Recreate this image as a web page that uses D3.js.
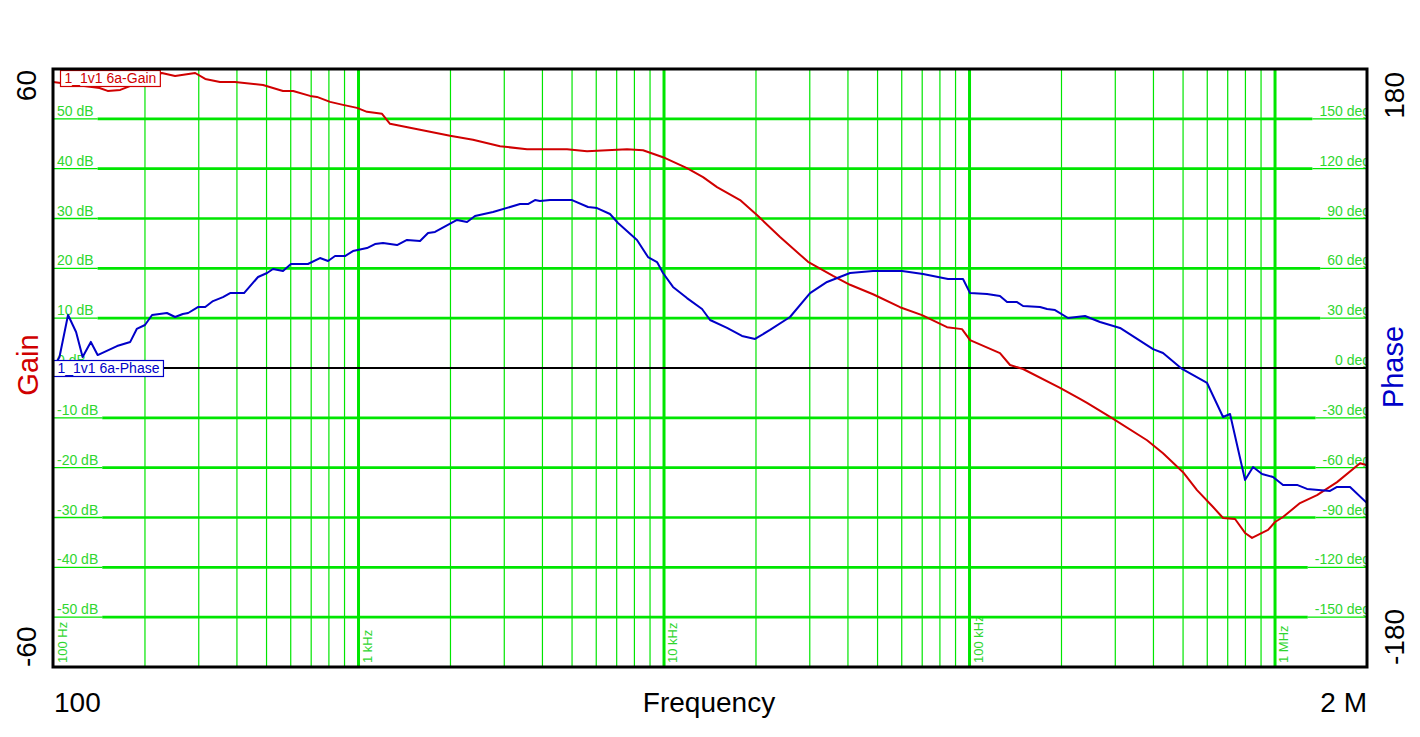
<!DOCTYPE html>
<html><head><meta charset="utf-8">
<script src="https://cdn.jsdelivr.net/npm/d3@7"></script>
<style>body{margin:0;background:#fff}svg{display:block;font-family:"Liberation Sans",Arial,sans-serif}</style>
</head><body>
<svg id="c" width="1420" height="737"></svg>
<script>
// ---- data ----
const gainFreq = [100,142,151,166,176,227,251,292,315,352,394,487,566,611,694,731,807,890,989,1066,1194,1268,1367,1474,1590,1993,2370,2906,3561,4814,5598,7566,8537,9924,11890,13420,14910,17740,20310,23980,29610,35750,40630,48320,59230,69910,84400,94510,100400,125800,135700,149700,197800,229900,242400,288400,381100,429900,499900,555400,626900,675900,739800,797700,840900,948700,1000000,1062100,1207000,1372600,1596000,1897600,2000000];
const gainDb = [57.4,56.2,55.6,55.8,56.4,59.2,58.6,59.2,58.0,57.4,57.4,56.8,55.6,55.6,54.6,54.4,53.4,52.8,52.2,51.4,51.0,49.0,48.6,48.2,47.8,46.6,45.8,44.5,43.9,43.9,43.5,43.9,43.7,42.3,40.1,38.3,36.3,33.7,30.5,26.3,21.3,18.5,16.7,14.8,12.2,10.6,8.2,7.8,5.6,3.0,0.6,-0.2,-4.0,-6.2,-7.0,-9.8,-14.5,-17.1,-20.9,-24.5,-27.9,-30.1,-30.3,-33.1,-34.1,-32.5,-30.9,-29.9,-27.1,-25.5,-22.9,-19.1,-19.5];
const phaseFreq = [100,105,112,119,125,133,140,162,179,188,200,211,236,251,266,277,298,315,334,360,380,422,469,502,525,566,601,683,748,795,838,903,959,1066,1132,1203,1337,1441,1590,1689,1780,2101,2266,2406,2756,3378,3587,3781,3927,4235,4999,5640,6035,6656,7070,8157,8863,9487,9924,10700,11890,13320,14150,16080,18000,19860,22230,25850,30060,34170,40630,48320,60140,70440,85040,95210,100400,114100,125800,132700,143100,149700,170100,179400,190500,210100,238800,267400,310900,398800,429900,496200,599100,675900,712400,797700,847200,906700,985100,1062100,1180300,1272500,1513600,1596000,1760100,2000000];
const phaseDeg = [0.0,6.6,31.9,21.7,6.6,15.7,7.8,13.2,15.7,23.5,25.9,31.9,33.1,30.7,32.5,33.1,36.7,36.7,40.3,42.7,45.1,45.1,54.8,57.2,59.6,58.4,62.6,62.6,66.2,64.4,67.4,67.4,70.4,72.2,74.6,75.3,74.0,77.1,76.5,81.3,81.9,89.1,87.9,91.5,93.9,98.7,98.7,101.1,100.5,101.1,101.1,96.9,96.3,92.7,87.3,77.1,66.8,63.8,57.2,48.8,42.1,35.5,28.9,24.1,19.3,17.5,22.9,30.7,45.1,51.8,57.2,58.4,58.4,56.6,53.6,53.6,45.1,44.5,43.3,39.7,39.7,37.3,36.7,35.5,34.9,30.1,31.3,27.7,24.1,11.4,9.0,-0.6,-9.0,-29.5,-27.7,-67.4,-59.6,-63.8,-65.6,-70.4,-70.4,-72.8,-74.0,-71.6,-71.6,-81.3];
const gainTicks = [-50,-40,-30,-20,-10,0,10,20,30,40,50];
const phaseTicks = [-150,-120,-90,-60,-30,0,30,60,90,120,150];
const decadeFreqs = [100,1000,10000,100000,1000000];
const decadeLabels = ["100 Hz","1 kHz","10 kHz","100 kHz","1 MHz"];
const traceNames = ["1_1v1 6a-Gain","1_1v1 6a-Phase"];

// ---- layout ----
const L=53,R=1367,T=69,B=667;
const GRID="#00e600", GTXT="#2fd62f", RED="#d00000", BLUE="#0000c8";
const svg=d3.select("#c");
const x=d3.scaleLog().domain([100,2e6]).range([L,R]);
const yG=d3.scaleLinear().domain([-60,60]).range([B,T]);
const yP=d3.scaleLinear().domain([-180,180]).range([B,T]);

svg.append("defs").append("clipPath").attr("id","pc").append("rect")
  .attr("x",L).attr("y",T).attr("width",R-L).attr("height",B-T);

const g=svg.append("g").attr("clip-path","url(#pc)");

// vertical grid
const vt=x.ticks().filter(v=>v>100 && v<2e6);
vt.forEach(v=>{
  const dec=Math.abs(Math.log10(v)-Math.round(Math.log10(v)))<1e-9;
  g.append("line").attr("x1",x(v)).attr("x2",x(v)).attr("y1",T).attr("y2",B)
   .attr("stroke",GRID).attr("stroke-width",dec?3:1.2);
});
// decade labels
decadeFreqs.forEach((v,i)=>{
  const xx=x(v)+(i===0?14:13);
  g.append("text").attr("transform",`translate(${xx},${B-4}) rotate(-90)`)
   .attr("fill",GTXT).attr("font-size",13).text(decadeLabels[i]);
});

// horizontal grid with labels
gainTicks.forEach((t,i)=>{
  const yy=yG(t);
  const lt=g.append("text").attr("x",L+4).attr("y",yy-3).attr("fill",GTXT).attr("font-size",14).text(t+" dB");
  const rt=g.append("text").attr("x",R+3).attr("y",yy-3).attr("text-anchor","end").attr("fill",GTXT).attr("font-size",14).text(phaseTicks[i]+" deg");
  const lw=lt.node().getComputedTextLength()+8;
  const rw=rt.node().getComputedTextLength()+4;
  if(t===0){
    g.append("line").attr("x1",L).attr("x2",R).attr("y1",yy).attr("y2",yy).attr("stroke","#000").attr("stroke-width",2.2);
  } else {
    g.append("line").attr("x1",L).attr("x2",L+lw).attr("y1",yy).attr("y2",yy).attr("stroke",GRID).attr("stroke-width",1.3);
    g.append("line").attr("x1",L+lw).attr("x2",R-rw).attr("y1",yy).attr("y2",yy).attr("stroke",GRID).attr("stroke-width",2.6);
    g.append("line").attr("x1",R-rw).attr("x2",R).attr("y1",yy).attr("y2",yy).attr("stroke",GRID).attr("stroke-width",1.3);
  }
});

// curves
const gainData=gainFreq.map((f,i)=>[f,gainDb[i]]);
const phaseData=phaseFreq.map((f,i)=>[f,phaseDeg[i]]);
g.append("path").datum(gainData).attr("fill","none").attr("stroke",RED).attr("stroke-width",2)
 .attr("stroke-linejoin","round").attr("d",d3.line().x(d=>x(d[0])).y(d=>yG(d[1])));
g.append("path").datum(phaseData).attr("fill","none").attr("stroke",BLUE).attr("stroke-width",2)
 .attr("stroke-linejoin","round").attr("d",d3.line().x(d=>x(d[0])).y(d=>yP(d[1])));

// legend boxes
function box(txt,col,bx,by,h){
  const bg=svg.append("g");
  const r=bg.append("rect").attr("x",bx).attr("y",by).attr("height",h)
   .attr("fill","#fff").attr("stroke",col).attr("stroke-width",1.2);
  const t=bg.append("text").attr("x",bx+4).attr("y",by+h-3.5).attr("fill",col).attr("font-size",14).text(txt);
  r.attr("width",t.node().getComputedTextLength()+8);
}
box(traceNames[0],RED,60.5,70.5,16);
box(traceNames[1],BLUE,53.5,360.5,16);

// border
svg.append("rect").attr("x",L).attr("y",T).attr("width",R-L).attr("height",B-T)
 .attr("fill","none").attr("stroke","#000").attr("stroke-width",3);

// outer labels
function rot(txt,cx,cy,anchor,size,col){
  svg.append("text").attr("transform",`translate(${cx},${cy}) rotate(-90)`)
   .attr("text-anchor",anchor).attr("font-size",size).attr("fill",col).text(txt);
}
rot("60",36,T+1,"end",28,"#000");
rot("-60",36,B,"start",28,"#000");
rot("Gain",38,365,"middle",29,RED);
rot("180",1404,T+3,"end",28,"#000");
rot("-180",1404,B-2,"start",28,"#000");
rot("Phase",1403,367,"middle",29,BLUE);
svg.append("text").attr("x",L+1).attr("y",712).attr("font-size",28).text("100");
svg.append("text").attr("x",709).attr("y",712).attr("text-anchor","middle").attr("font-size",28).text("Frequency");
svg.append("text").attr("x",R).attr("y",712).attr("text-anchor","end").attr("font-size",28).text("2 M");
</script>
</body></html>
